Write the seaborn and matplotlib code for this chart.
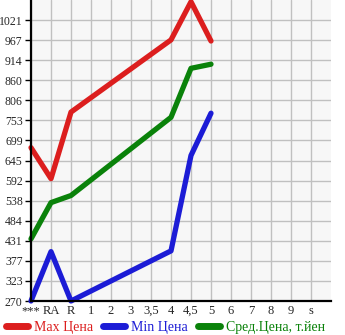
import matplotlib
matplotlib.use("Agg")
import matplotlib.pyplot as plt
import seaborn as sns
import pandas as pd
import numpy as np
from matplotlib.lines import Line2D
from matplotlib.transforms import ScaledTranslation

categories = ["***", "RA", "R", "1", "2", "3", "3,5", "4", "4,5", "5", "6", "7", "8", "9", "s"]
point_cats = ["***", "RA", "R", "4", "4,5", "5"]
max_price = [680, 597, 775, 968, 1070, 965]
min_price = [270, 402, 270, 404, 659, 772]
avg_price = [436, 533, 552, 761, 892, 903]
y_ticks = [270, 323, 377, 431, 484, 538, 592, 645, 699, 753, 806, 860, 914, 967, 1021]
series_names = ["Max Цена", "Min Цена", "Сред.Цена, т.йен"]
colors = ["#dc1e1e", "#1c1cd6", "#0a820a"]

sns.set_theme(style="white")
plt.rcParams["font.family"] = ["Liberation Serif", "DejaVu Serif"]

rows = []
for name, vals in zip(series_names, [max_price, min_price, avg_price]):
    for c, v in zip(point_cats, vals):
        rows.append({"pos": categories.index(c), "value": v, "series": name})
df = pd.DataFrame(rows)

fig = plt.figure(figsize=(3.45, 3.35), dpi=100)
ax = fig.add_axes([31/345, 34/335, 300/345, 301/335])
ax.set_facecolor("#f7f7f7")

sns.lineplot(data=df, x="pos", y="value", hue="series", palette=colors,
             hue_order=series_names, ax=ax, linewidth=3.8, legend=False,
             sort=False, estimator=None)
for ln in ax.lines:
    ln.set_solid_capstyle("round")
    ln.set_solid_joinstyle("round")
    ln.set_clip_on(False)

step = (1021 - 270) / 14.0
ymin = 270
ymax = 270 + 15 * step
ax.set_xlim(0, 15)
ax.set_ylim(ymin, ymax)

ytick_pos = [270 + i * step for i in range(15)]
ax.set_yticks(ytick_pos)
ax.set_yticklabels([str(v) for v in y_ticks], fontsize=8.5)
ax.set_xticks(range(15))
ax.set_xticklabels(categories, fontsize=9)
offset = ScaledTranslation(-3/100, 0, fig.dpi_scale_trans)
for lbl in ax.get_xticklabels():
    lbl.set_transform(lbl.get_transform() + offset)

ax.grid(True, color="#c0c0c0", linewidth=1.0)
ax.set_axisbelow(True)
for s in ["top", "right"]:
    ax.spines[s].set_visible(False)
for s in ["left", "bottom"]:
    ax.spines[s].set_color("black")
    ax.spines[s].set_linewidth(1.6)
ax.tick_params(axis="y", length=4.5, width=1, color="black", pad=1.5, left=True)
ax.tick_params(axis="x", length=0, pad=3)
ax.set_xlabel("")
ax.set_ylabel("")

handles = [Line2D([0], [0], color=c, linewidth=5, solid_capstyle="round") for c in colors]
leg = fig.legend(handles, series_names, loc="lower left", bbox_to_anchor=(-0.012, -0.025),
                 ncol=3, frameon=False, fontsize=10, handlelength=1.6,
                 handletextpad=0.45, columnspacing=0.7, borderpad=0.2)
for t, c in zip(leg.get_texts(), colors):
    t.set_color(c)

fig.savefig("out.png", dpi=100)
